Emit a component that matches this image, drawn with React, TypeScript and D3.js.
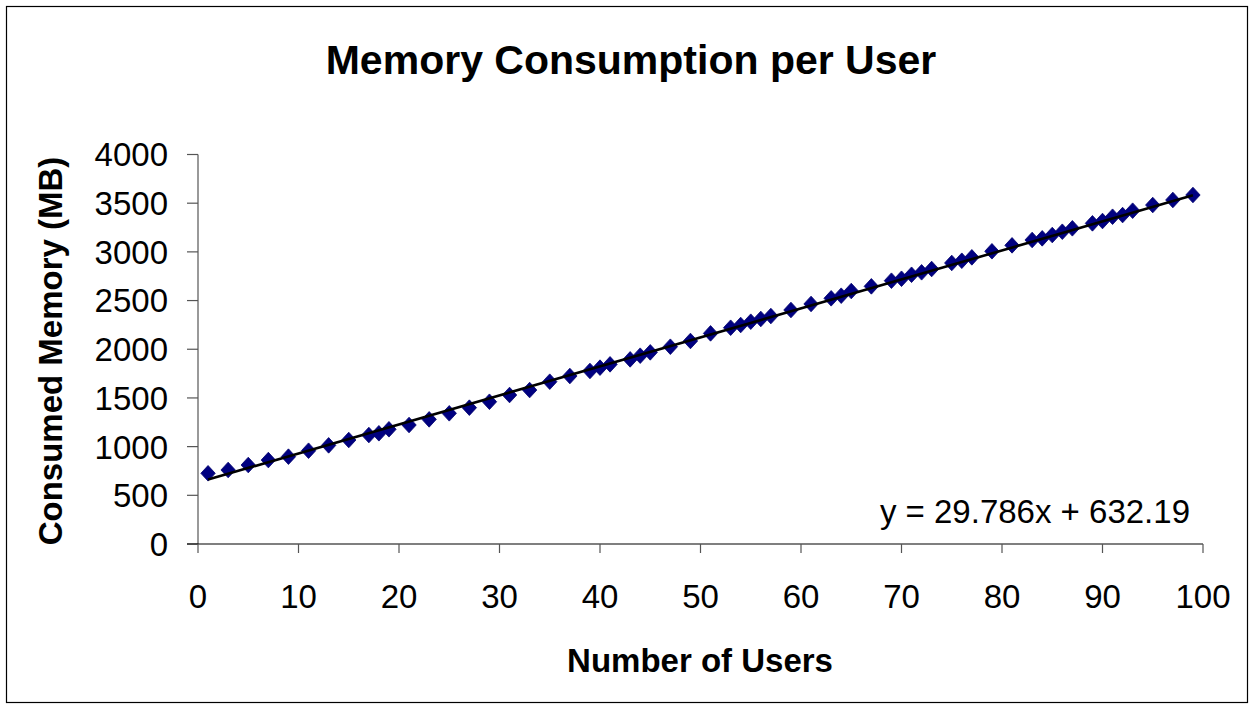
import React from "react";
import * as d3 from "d3";

const usersX = [1,3,5,7,9,11,13,15,17,18,19,21,23,25,27,29,31,33,35,37,39,40,41,43,44,45,47,49,51,53,54,55,56,57,59,61,63,64,65,67,69,70,71,72,73,75,76,77,79,81,83,84,85,86,87,89,90,91,92,93,95,97,99];
const memoryY = [726,760,811,862,897,958,1013,1068,1119,1137,1178,1222,1280,1342,1400,1461,1530,1581,1667,1725,1777,1811,1845,1896,1934,1968,2026,2085,2163,2221,2249,2283,2311,2341,2403,2465,2523,2550,2598,2646,2704,2724,2765,2790,2824,2886,2909,2944,3006,3067,3122,3139,3173,3207,3242,3293,3317,3361,3378,3423,3481,3533,3584];
const xTicks = [0,10,20,30,40,50,60,70,80,90,100];
const yTicks = [0,500,1000,1500,2000,2500,3000,3500,4000];
const slope = 29.786;
const intercept = 632.19;
const trendRange = [1, 99];

const FONT = "'Liberation Sans', Arial, Helvetica, sans-serif";

export default function App() {
  const W = 1253, H = 709;
  const x = d3.scaleLinear().domain([0, 100]).range([198, 1203]);
  const y = d3.scaleLinear().domain([0, 4000]).range([544, 154.5]);
  const pts = usersX.map((u, i) => [u, memoryY[i]] as [number, number]);
  const trend = d3.line<number>().x(d => x(d)).y(d => y(slope * d + intercept));
  const dw = 7.2, dh = 7.8;
  const diamond = `M0,${-dh}L${dw},0L0,${dh}L${-dw},0Z`;
  return (
    <svg width={W} height={H} style={{ position: "absolute", left: 0, top: 0, background: "#fff" }} fontFamily={FONT}>
      <rect x={0} y={0} width={W} height={H} fill="#fff" />
      <rect x={6.5} y={6.5} width={1241} height={696} fill="none" stroke="#000" strokeWidth={1.2} />
      <text x={631} y={74} textAnchor="middle" fontSize={41} fontWeight="bold">Memory Consumption per User</text>
      {/* y axis */}
      <line x1={198} x2={198} y1={y(4000)} y2={544} stroke="#555" strokeWidth={1.2} />
      {yTicks.map(t => (
        <g key={"y" + t}>
          <line x1={187} x2={198} y1={y(t)} y2={y(t)} stroke="#555" strokeWidth={1.2} />
          <text x={168} y={y(t)} dy="0.36em" textAnchor="end" fontSize={33}>{t}</text>
        </g>
      ))}
      {/* x axis */}
      <line x1={187} x2={1203} y1={544} y2={544} stroke="#000" strokeWidth={1.2} />
      {xTicks.map(t => (
        <g key={"x" + t}>
          <line x1={x(t)} x2={x(t)} y1={544} y2={553} stroke="#555" strokeWidth={1.2} />
          <text x={x(t)} y={608} textAnchor="middle" fontSize={33}>{t}</text>
        </g>
      ))}
      {/* points */}
      {pts.map(([u, m], i) => (
        <path key={i} d={diamond} transform={`translate(${x(u)},${y(m)})`} fill="#000080" stroke="#00006e" strokeWidth={0.8} />
      ))}
      {/* trendline */}
      <path d={trend(trendRange) as string} fill="none" stroke="#000" strokeWidth={2.6} />
      <text x={1190} y={523} textAnchor="end" fontSize={33}>y = 29.786x + 632.19</text>
      <text x={700} y={672} textAnchor="middle" fontSize={33} fontWeight="bold">Number of Users</text>
      <text transform={`translate(62,351) rotate(-90)`} textAnchor="middle" fontSize={33} fontWeight="bold">Consumed Memory (MB)</text>
    </svg>
  );
}
